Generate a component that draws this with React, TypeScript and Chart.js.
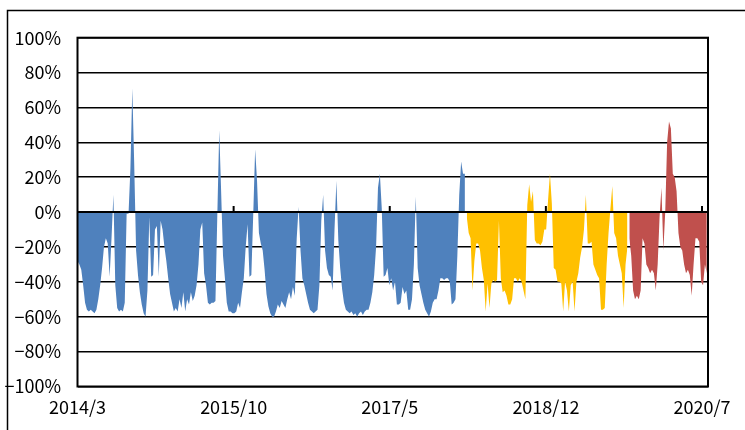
import { useEffect, useRef } from 'react';
import { Chart, registerables } from 'chart.js';

Chart.register(...registerables);

// Weekly observations starting 2014/3 (week index 0)
const weeksPerMonth = 52.1775 / 12;
const blueStart = 0;
const yellowStart = 206;
const redStart = 292;

const blueValues = [
  -28, -30, -33, -42, -52, -56, -57, -56, -57, -58,
  -56, -50, -42, -32, -20, -15, -18, -37, -15, 10,
  -42, -55, -57, -56, -57, -52, -1, -1, 25, 71,
  28, -22, -36, -46, -53, -58, -60, -45, -3, -37,
  -36, -10, -8, -37, -5, -10, -20, -28, -38, -47,
  -52, -57, -55, -57, -50, -55, -46, -57, -50, -53,
  -46, -51, -48, -42, -30, -10, -6, -35, -42, -52,
  -53, -52, -52, -51, -1, 47, 12, -25, -38, -52,
  -57, -57, -58, -58, -57, -52, -55, -46, -38, -20,
  -7, -37, -36, -1, 36, 18, -12, -18, -22, -33,
  -47, -54, -58, -60, -60, -57, -53, -55, -51, -53,
  -55, -50, -46, -50, -43, -48, -15, 3, -22, -38,
  -42, -47, -52, -56, -57, -58, -57, -56, -42, -5,
  10, -22, -32, -36, -37, -45, -10, 18, -16, -32,
  -44, -52, -56, -57, -58, -57, -59, -58, -60, -58,
  -57, -59, -57, -56, -56, -52, -46, -36, -20, 14,
  22, 2, -37, -36, -32, -42, -38, -45, -40, -53,
  -53, -52, -43, -47, -45, -56, -56, -50, -30, 9,
  -32, -42, -47, -52, -56, -58, -60, -57, -52, -50,
  -50, -45, -38, -38, -39, -38, -38, -40, -53, -52,
  -50, -25, 10, 29, 22, 22,
];

const yellowValues = [
  -3, -12, -15, -45, -28, -18, -18, -22, -32, -39,
  -57, -41, -55, -41, -39, -40, -39, -5, -38, -46,
  -45, -48, -53, -53, -50, -38, -38, -40, -38, -40,
  -45, -50, 4, 16, 6, 12, -16, -18, -18, -19,
  -17, -10, -10, 7, 22, 5, -32, -33, -40, -40,
  -41, -57, -40, -45, -57, -42, -40, -57, -40, -35,
  -26, -20, -10, 10, -18, -18, -17, -30, -33, -36,
  -38, -56, -56, -55, -30, -12, 2, 15, -12, -15,
  -25, -30, -35, -55, -30, -20,
];

const redValues = [
  -15, -25, -45, -50, -48, -50, -45, -15, -18, -30,
  -32, -35, -33, -35, -45, -30, -3, 14, -22, 0,
  40, 52, 48, 22, 20, 12, -12, -20, -22, -30,
  -35, -33, -36, -48, -30, -15, -15, -17, -40, -42,
  -30, -35,
];

const xTickMonths = [0, 19, 38, 57, 76];
const xTickLabels = ['2014/3', '2015/10', '2017/5', '2018/12', '2020/7'];
const xMaxMonths = 76.73;

const toPoints = (values: number[], start: number) =>
  values.map((v, i) => ({ x: (start + i) / weeksPerMonth, y: v }));

const FONT = "'Noto Sans CJK JP', 'Noto Sans', sans-serif";

const framePlugin = {
  id: 'framePlugin',
  beforeDraw(chart: any) {
    const ctx = chart.ctx;
    ctx.save();
    ctx.fillStyle = '#fff';
    ctx.fillRect(0, 0, chart.width, chart.height);
    ctx.strokeStyle = '#000';
    ctx.lineWidth = 1.5;
    ctx.strokeRect(7.5, 10.5, 900, 600);
    ctx.restore();
  },
  afterDatasetsDraw(chart: any) {
    const { ctx, chartArea, scales } = chart;
    const x = scales.x;
    const y = scales.y;
    const y0 = y.getPixelForValue(0);
    ctx.save();
    ctx.strokeStyle = '#000';
    ctx.lineWidth = 2;
    ctx.beginPath();
    ctx.moveTo(chartArea.left, y0);
    ctx.lineTo(chartArea.right, y0);
    ctx.stroke();
    ctx.beginPath();
    x.ticks.forEach((t: any) => {
      const px = x.getPixelForValue(t.value);
      if (px > chartArea.left + 2 && px < chartArea.right - 2) {
        ctx.moveTo(px, y0);
        ctx.lineTo(px, y0 - 6);
      }
    });
    ctx.stroke();
    ctx.strokeRect(chartArea.left, chartArea.top, chartArea.right - chartArea.left, chartArea.bottom - chartArea.top);
    ctx.restore();
  },
};

export default function App() {
  const ref = useRef<HTMLCanvasElement | null>(null);

  useEffect(() => {
    if (!ref.current) return;
    const area = (data: { x: number; y: number }[], color: string) => ({
      data,
      backgroundColor: color,
      borderColor: color,
      borderWidth: 0,
      pointRadius: 0,
      tension: 0,
      fill: 'origin',
    });
    const chart = new Chart(ref.current, {
      type: 'line',
      data: {
        datasets: [
          area(toPoints(blueValues, blueStart), '#4F81BD'),
          area(toPoints(yellowValues, yellowStart), '#FFC000'),
          area(toPoints(redValues, redStart), '#C0504D'),
        ] as any,
      },
      options: {
        animation: false,
        responsive: false,
        devicePixelRatio: 1,
        layout: { padding: { top: 37.7, right: 37, left: 0, bottom: 0 } },
        plugins: { legend: { display: false }, tooltip: { enabled: false } },
        scales: {
          x: {
            type: 'linear',
            min: 0,
            max: xMaxMonths,
            afterBuildTicks: (s: any) => {
              s.ticks = xTickMonths.map((v) => ({ value: v }));
            },
            afterFit: (s: any) => {
              s.height = 43.5;
            },
            grid: { display: false, drawTicks: false },
            border: { display: false },
            ticks: {
              autoSkip: false,
              maxRotation: 0,
              padding: 10,
              color: '#000',
              font: { family: FONT, size: 18 },
              callback: (v: any) => {
                const i = xTickMonths.indexOf(Number(v));
                return i >= 0 ? xTickLabels[i] : '';
              },
            },
          },
          y: {
            min: -100,
            max: 100,
            afterFit: (s: any) => {
              s.width = 77.5;
            },
            grid: { color: '#000', lineWidth: 1.5, drawTicks: false },
            border: { display: false },
            ticks: {
              stepSize: 20,
              padding: 16.5,
              color: '#000',
              font: { family: FONT, size: 18 },
              callback: (v: any) => (v < 0 ? '\u2212' + Math.abs(v) : String(v)) + '%',
            },
          },
        },
      },
      plugins: [framePlugin],
    });
    return () => chart.destroy();
  }, []);

  return (
    <div style={{ position: 'fixed', left: 0, top: 0, width: 745, height: 430, background: '#fff' }}>
      <canvas ref={ref} width={745} height={430} style={{ width: 745, height: 430, display: 'block' }} />
    </div>
  );
}
